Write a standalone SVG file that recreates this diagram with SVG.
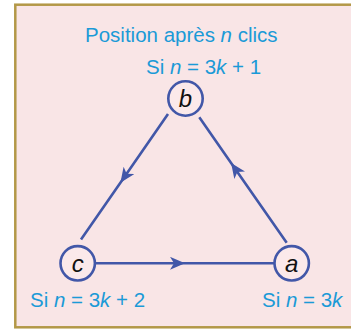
<svg xmlns="http://www.w3.org/2000/svg" width="351" height="329" viewBox="0 0 351 329">
<style>
.lbl{font-family:"Liberation Sans","Open Sans",sans-serif;font-size:20.5px;fill:#1b9ad7}
.it{font-style:italic}
.node circle{fill:#fbe9ea;stroke:#4257a8;stroke-width:2.6}
.node text{font-family:"Liberation Sans","Open Sans",sans-serif;font-style:italic;font-size:24px;fill:#111;text-anchor:middle}
.edge{fill:none;stroke:#4257a8;stroke-width:2.6;marker-mid:url(#arr)}
</style>
<defs>
<marker id="arr" markerUnits="userSpaceOnUse" markerWidth="18" markerHeight="14" refX="15" refY="6.5" orient="auto">
<path d="M0,0 L15,6.5 L0,13 L4,6.5 z" fill="#4257a8"/>
</marker>
</defs>
<rect x="0" y="0" width="351" height="329" fill="#ffffff"/>
<rect x="15.3" y="4.7" width="345" height="322.6" fill="#f9e5e6" stroke="#b39847" stroke-width="2.5"/>
<text class="lbl" x="85" y="41.5" font-size="21">Position après <tspan class="it">n</tspan> clics</text>
<text class="lbl" x="146" y="74.3">Si <tspan class="it">n</tspan> = 3<tspan class="it">k</tspan> + 1</text>
<text class="lbl" x="30" y="307.3">Si <tspan class="it">n</tspan> = 3<tspan class="it">k</tspan> + 2</text>
<text class="lbl" x="262" y="307.3">Si <tspan class="it">n</tspan> = 3<tspan class="it">k</tspan></text>
<g id="connectors">
<path class="edge" d="M96,263.3 L185,263.3 L274,263.3"/>
<path class="edge" d="M168,114 L120.4,182.7 L81,239.5"/>
<path class="edge" d="M286.7,242.7 L231.1,163 L199.3,117.3"/>
</g>
<g id="node-b" class="node"><circle cx="185.5" cy="98.5" r="17.2"/><text x="185.5" y="107">b</text></g>
<g id="node-c" class="node"><circle cx="77.7" cy="263.3" r="17.2"/><text x="77.7" y="271.5">c</text></g>
<g id="node-a" class="node"><circle cx="291.7" cy="263.3" r="17.2"/><text x="291.7" y="271.5">a</text></g>
</svg>
